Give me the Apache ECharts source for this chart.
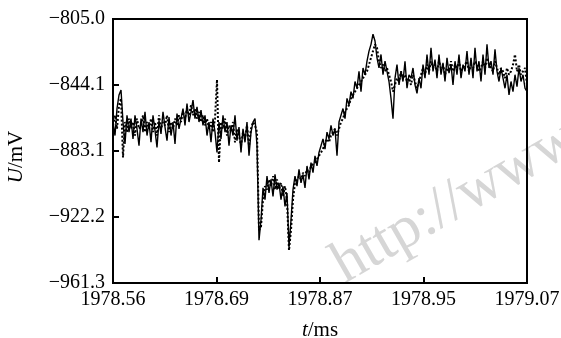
<!DOCTYPE html>
<html>
<head>
<meta charset="utf-8">
<script src="https://cdn.jsdelivr.net/npm/echarts@6/dist/echarts.min.js"></script>
<style>
  html, body { margin: 0; padding: 0; background: #fff; }
  #chart { width: 561px; height: 338px; }
</style>
</head>
<body>
<div id="chart"></div>
<script>
// tick labels on the time axis (evenly placed in the source figure)
const xTickLabels = ['1978.56', '1978.69', '1978.87', '1978.95', '1979.07'];
const yMin = -961.3;
const yMax = -805.0;

// measured signal (solid), evenly sampled across the time axis
const measured = [
  -866, -874, -858, -850, -847, -866, -879, -862, -872, -864,
  -876, -862, -870, -880, -864, -872, -860, -874, -866, -878,
  -862, -871, -881, -865, -873, -860, -869, -877, -863, -874,
  -866, -879, -861, -870, -864, -858, -868, -855, -866, -860,
  -853, -864, -857, -866, -859, -868, -862, -874, -866, -878,
  -864, -872, -884, -866, -876, -862, -872, -866, -880, -868,
  -874, -862, -877, -869, -884, -870, -878, -866, -886, -872,
  -866, -864, -880, -936, -924, -905, -912, -898, -908, -900,
  -910, -897, -906, -902, -912, -904, -916, -908, -940, -924,
  -906, -898, -904, -894, -902, -897, -905, -892, -900, -890,
  -896, -886, -892, -884, -880, -876, -882, -872, -876, -868,
  -874, -870, -886, -866, -862, -858, -864, -852, -856, -848,
  -852, -842, -846, -836, -848, -834, -838, -830, -824, -820,
  -814, -818, -828, -834, -826, -838, -830, -836, -842, -852,
  -864, -840, -832, -844, -836, -842, -830, -846, -838, -840,
  -834, -844, -849, -840, -846, -832, -840, -826, -838, -822,
  -836, -829, -840, -826, -838, -831, -842, -828, -837, -832,
  -844, -830, -838, -826, -840, -832, -836, -824, -838, -828,
  -840, -822, -836, -830, -842, -826, -838, -820, -834, -830,
  -838, -823, -836, -842, -834, -840, -846, -838, -850, -842,
  -848, -838, -845, -834, -842, -838, -846, -848
];

// simulated signal (dotted)
const simulated = [
  -868, -862, -870, -856, -852, -887, -866, -872, -864, -870,
  -866, -874, -864, -870, -868, -862, -872, -866, -870, -864,
  -872, -866, -874, -862, -870, -866, -868, -862, -872, -866,
  -870, -864, -868, -862, -866, -860, -864, -858, -862, -856,
  -862, -858, -864, -860, -866, -862, -868, -864, -870, -866,
  -872, -864, -841, -890, -866, -870, -864, -874, -868, -872,
  -866, -878, -870, -874, -880, -872, -876, -868, -880, -870,
  -866, -868, -872, -930, -928, -912, -904, -906, -900, -904,
  -898, -906, -900, -906, -902, -910, -904, -912, -942, -930,
  -912, -902, -900, -898, -900, -896, -898, -894, -896, -892,
  -892, -890, -888, -886, -884, -882, -878, -876, -878, -874,
  -872, -870, -874, -870, -866, -864, -860, -858, -856, -852,
  -850, -848, -846, -844, -842, -840, -838, -836, -832, -828,
  -824, -820, -822, -830, -834, -832, -836, -834, -838, -842,
  -848, -844, -840, -842, -836, -840, -838, -842, -840, -844,
  -838, -842, -846, -842, -838, -834, -838, -832, -836, -830,
  -834, -832, -836, -830, -834, -832, -838, -834, -836, -830,
  -836, -832, -834, -830, -836, -834, -832, -830, -836, -832,
  -834, -830, -832, -836, -834, -830, -834, -828, -832, -834,
  -836, -830, -834, -838, -834, -836, -840, -834, -838, -836,
  -832, -826, -836, -832, -838, -836, -834, -844
];

const toPairs = (arr) => arr.map((v, i) => [(i * (xTickLabels.length - 1)) / (arr.length - 1), v]);

const chart = echarts.init(document.getElementById('chart'));
const serif = 'Liberation Serif';

chart.setOption({
  animation: false,
  grid: {
    left: 113,
    right: 34,
    top: 19,
    bottom: 55,
    outerBoundsMode: 'none',
    show: true,
    borderColor: '#000',
    borderWidth: 2,
  },
  xAxis: {
    type: 'value',
    min: 0,
    max: xTickLabels.length - 1,
    interval: 1,
    name: '{i|t}/ms',
    nameLocation: 'middle',
    nameGap: 37,
    nameTextStyle: {
      fontFamily: serif,
      fontSize: 21,
      color: '#000',
      rich: { i: { fontStyle: 'italic', fontFamily: serif, fontSize: 21, color: '#000' } },
    },
    axisLine: { lineStyle: { color: '#000', width: 2 } },
    axisTick: { inside: true, length: 6, lineStyle: { color: '#000', width: 2 } },
    axisLabel: {
      fontFamily: serif,
      fontSize: 20,
      color: '#000',
      margin: 7,
      formatter: (v) => xTickLabels[Math.round(v)],
    },
    splitLine: { show: false },
  },
  yAxis: {
    type: 'value',
    min: yMin,
    max: yMax,
    interval: (yMax - yMin) / 4,
    name: '{i|U}/mV',
    nameLocation: 'middle',
    nameGap: 86,
    nameRotate: 90,
    nameTextStyle: {
      fontFamily: serif,
      fontSize: 21,
      color: '#000',
      padding: [0, 12, 0, 0],
      rich: { i: { fontStyle: 'italic', fontFamily: serif, fontSize: 21, color: '#000' } },
    },
    axisLine: { show: true, lineStyle: { color: '#000', width: 2 } },
    axisTick: { show: true, inside: true, length: 6, lineStyle: { color: '#000', width: 2 } },
    axisLabel: {
      fontFamily: serif,
      fontSize: 20,
      color: '#000',
      margin: 8,
      formatter: (v) => '\u2212' + Math.abs(v).toFixed(1),
    },
    splitLine: { show: false },
  },
  graphic: [
    {
      type: 'text',
      left: 322,
      top: 108,
      rotation: 0.52,
      silent: true,
      z: -1,
      style: { text: 'http://www', font: '60px "Liberation Serif"', fill: '#d6d6d6' },
    },
  ],
  series: [
    {
      type: 'line',
      data: toPairs(measured),
      showSymbol: false,
      lineStyle: { color: '#000', width: 1.4 },
    },
    {
      type: 'line',
      data: toPairs(simulated),
      showSymbol: false,
      lineStyle: { color: '#000', width: 2, type: 'dotted' },
    },
  ],
});
</script>
</body>
</html>
